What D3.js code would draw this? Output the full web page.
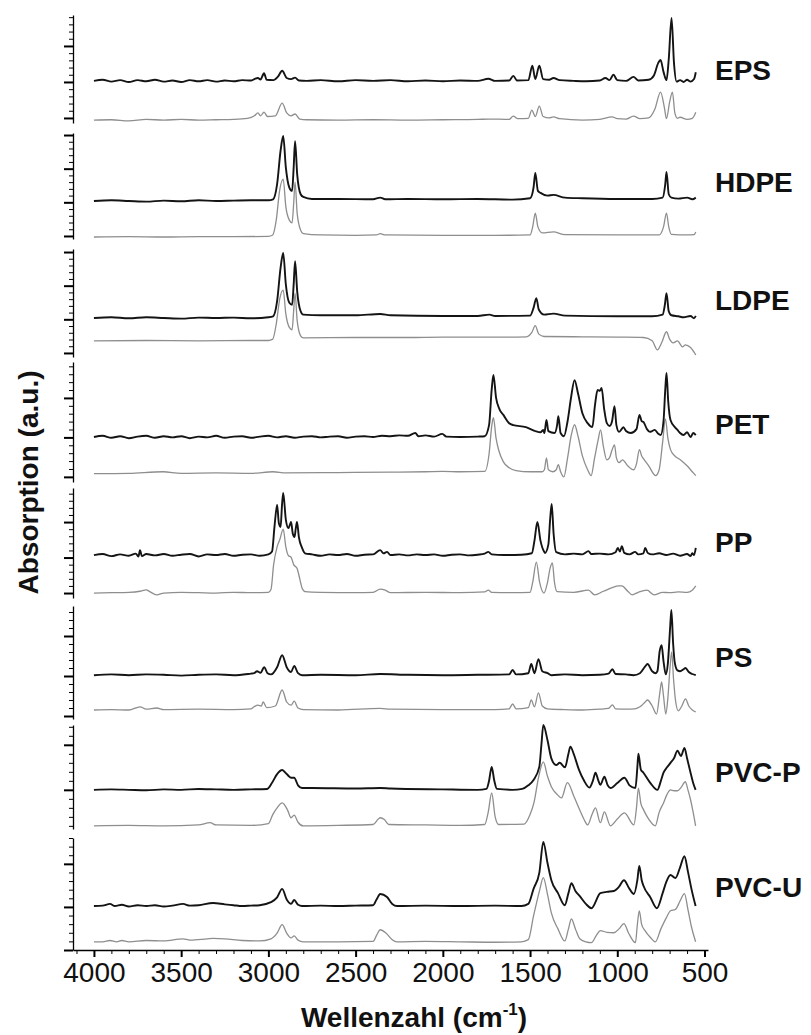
<!DOCTYPE html>
<html>
<head>
<meta charset="utf-8">
<script src="https://cdn.jsdelivr.net/npm/d3@7"></script>
<style>
  body { margin: 0; background: #fff; }
  svg text { font-family: "Liberation Sans", Arial, sans-serif; fill: #111; }
</style>
</head>
<body>
<div id="chart"></div>
<script>
// ---- data ----
const polymers = ["EPS", "HDPE", "LDPE", "PET", "PP", "PS", "PVC-P", "PVC-U"];
const xTicks = [4000, 3500, 3000, 2500, 2000, 1500, 1000, 500];
// stacking offsets (a.u.) of the measured (black) and reference (grey) spectra
const sampleOffsets = [1.03, 1.04, 1.04, 1.01, 1.07, 1.02, 1.0, 1.02];
const referenceOffsets = [-0.06, -0.03, 0.36, 0.08, 0.0, 0.15, 0.2, 0.19];

// [wavenumber, absorption] pairs
const epsSample = [[4000,0],[3950,0.03],[3900,-0.02],[3850,0.02],[3800,-0.03],[3750,0.02],[3700,-0.01],[3650,0.03],[3600,-0.02],[3550,0.01],[3500,-0.03],[3450,0.02],[3400,-0.01],[3350,0.02],[3300,-0.02],[3250,0.01],[3200,-0.01],[3150,0.02],[3100,0.01],[3080,0.05],[3060,0.08],[3045,0.04],[3025,0.21],[3010,0.03],[2970,0.02],[2945,0.12],[2921,0.28],[2895,0.08],[2870,0.05],[2847,0.09],[2825,0.01],[2780,0],[2700,0.02],[2600,-0.01],[2500,0.02],[2400,0],[2300,0.02],[2200,-0.01],[2100,0.01],[2000,-0.01],[1900,0.01],[1800,0],[1739,0.06],[1700,0],[1620,0.01],[1596,0.14],[1575,0.01],[1510,0.02],[1487,0.42],[1470,0.05],[1447,0.42],[1425,0.05],[1390,0.03],[1366,0.08],[1330,0.02],[1250,0],[1180,-0.01],[1100,0.01],[1068,0.08],[1045,0.02],[1022,0.17],[1000,0.02],[950,0],[907,0.11],[880,0.01],[820,0.03],[790,0.15],[765,0.5],[752,0.58],[735,0.25],[718,0.02],[705,0.6],[689,1.75],[675,0.5],[660,-0.02],[640,0.02],[620,-0.03],[600,0.03],[580,-0.02],[560,0.05],[550,0.24]];
const epsReference = [[4000,0],[3900,0.01],[3800,-0.02],[3700,0.02],[3600,0],[3500,0.02],[3400,0],[3300,0.01],[3200,0.02],[3120,0.05],[3080,0.12],[3060,0.2],[3045,0.12],[3025,0.22],[3005,0.1],[2960,0.12],[2921,0.47],[2895,0.2],[2870,0.12],[2847,0.17],[2820,0.03],[2780,0.01],[2600,0],[2400,0.01],[2200,0],[2000,0.01],[1800,0.02],[1739,0.03],[1620,0.02],[1596,0.11],[1570,0.04],[1510,0.05],[1490,0.28],[1470,0.1],[1447,0.39],[1425,0.1],[1390,0.06],[1366,0.09],[1330,0.04],[1200,0],[1100,0.02],[1030,0.09],[1000,0.04],[950,0.03],[907,0.11],[870,0.04],[820,0.06],[785,0.3],[752,0.78],[730,0.35],[718,0.04],[700,0.5],[684,0.78],[670,0.2],[655,0.05],[640,0.08],[600,0.02],[570,0.05],[550,0.22]];

const hdpeSample = [[4000,0],[3900,0.02],[3800,0],[3700,-0.02],[3600,0.01],[3500,-0.01],[3400,0.02],[3300,0],[3200,0.01],[3100,0.02],[3000,0.02],[2973,0.05],[2950,0.5],[2930,1.5],[2915,1.93],[2900,1.0],[2880,0.4],[2864,0.3],[2855,1.0],[2847,1.78],[2835,0.8],[2815,0.2],[2800,0.12],[2750,0.06],[2600,0.06],[2400,0.05],[2359,0.1],[2330,0.05],[2200,0.06],[2000,0.05],[1800,0.06],[1600,0.04],[1500,0.08],[1480,0.4],[1470,0.83],[1455,0.3],[1440,0.24],[1400,0.16],[1366,0.18],[1300,0.1],[1200,0.08],[1000,0.06],[800,0.06],[740,0.1],[725,0.5],[718,0.86],[705,0.2],[690,0.1],[650,0.07],[600,0.1],[570,0.05],[550,0.1]];
const hdpeReference = [[4000,0],[3800,0.01],[3600,0],[3400,0.01],[3200,0.01],[3000,0.02],[2975,0.06],[2955,0.5],[2935,1.4],[2915,1.72],[2900,0.9],[2880,0.5],[2864,0.42],[2855,1.0],[2847,1.63],[2835,0.7],[2815,0.2],[2800,0.1],[2700,0.06],[2500,0.05],[2380,0.06],[2359,0.1],[2330,0.06],[2000,0.05],[1700,0.05],[1500,0.06],[1485,0.3],[1470,0.71],[1455,0.3],[1430,0.12],[1366,0.15],[1300,0.07],[1000,0.06],[760,0.06],[735,0.3],[718,0.71],[705,0.3],[690,0.08],[600,0.06],[560,0.07],[550,0.15]];

const ldpeSample = [[4000,0],[3900,0.02],[3800,-0.01],[3700,0.02],[3600,0],[3500,-0.02],[3400,0.01],[3300,0],[3200,0.01],[3100,-0.01],[3000,0.02],[2973,0.05],[2950,0.5],[2930,1.5],[2915,1.93],[2900,1.0],[2880,0.45],[2864,0.39],[2855,1.0],[2847,1.69],[2835,0.8],[2815,0.2],[2800,0.1],[2700,0.08],[2500,0.08],[2359,0.12],[2300,0.08],[2000,0.06],[1800,0.06],[1733,0.1],[1700,0.06],[1500,0.07],[1480,0.3],[1464,0.59],[1450,0.25],[1420,0.1],[1366,0.13],[1300,0.07],[1000,0.05],[800,0.05],[740,0.1],[727,0.4],[718,0.74],[705,0.2],[690,0.08],[650,0.05],[620,0.02],[580,0.06],[560,-0.01],[550,0.06]];
const ldpeReference = [[4000,0],[3700,0.01],[3400,0],[3100,0.01],[3000,0.01],[2975,0.05],[2955,0.5],[2935,1.25],[2915,1.51],[2900,0.8],[2880,0.4],[2864,0.33],[2855,0.9],[2847,1.42],[2835,0.6],[2815,0.15],[2800,0.09],[2500,0.1],[2200,0.1],[2000,0.11],[1700,0.11],[1520,0.12],[1490,0.25],[1470,0.45],[1450,0.2],[1420,0.13],[1200,0.12],[1000,0.11],[850,0.1],[800,0.0],[770,-0.27],[745,-0.05],[718,0.27],[700,0.05],[680,-0.06],[655,0.0],[626,-0.18],[610,-0.12],[580,-0.2],[550,-0.42]];

const petSample = [[4000,0],[3950,0.03],[3900,-0.02],[3850,0.02],[3800,-0.03],[3750,0.01],[3700,0.03],[3650,-0.02],[3600,0.02],[3550,-0.01],[3500,0.02],[3450,-0.03],[3400,0.01],[3350,-0.01],[3300,0.03],[3250,-0.02],[3200,0.01],[3150,0.02],[3100,-0.02],[3050,0.01],[3000,0.03],[2950,-0.01],[2900,0.02],[2850,-0.02],[2800,0.01],[2750,0.02],[2700,-0.01],[2650,0.01],[2600,0.02],[2550,-0.02],[2500,0.01],[2450,0.02],[2400,0.0],[2350,0.03],[2300,0.02],[2250,0.04],[2200,0.03],[2158,0.1],[2140,0.02],[2100,0.04],[2050,0.01],[2003,0.08],[1980,0.01],[1900,0.0],[1800,0.01],[1760,0.02],[1735,0.3],[1720,1.2],[1710,1.57],[1695,1.0],[1675,0.7],[1653,0.56],[1620,0.35],[1596,0.3],[1524,0.25],[1470,0.15],[1440,0.12],[1425,0.18],[1418,0.1],[1406,0.43],[1395,0.15],[1360,0.1],[1345,0.3],[1338,0.53],[1325,0.1],[1306,0.02],[1285,0.4],[1265,1.0],[1245,1.44],[1225,1.1],[1200,0.6],[1170,0.35],[1143,0.25],[1128,0.8],[1113,1.19],[1100,1.17],[1090,1.24],[1075,0.7],[1060,0.35],[1044,0.28],[1030,0.4],[1016,0.78],[1005,0.3],[990,0.13],[975,0.2],[965,0.25],[950,0.15],[923,0.1],[890,0.2],[873,0.56],[860,0.4],[850,0.38],[830,0.2],[813,0.13],[800,0.15],[785,0.18],[765,0.08],[751,0.05],[735,0.4],[725,1.2],[718,1.62],[708,0.9],[695,0.43],[670,0.25],[655,0.18],[640,0.1],[620,0.05],[600,0.12],[580,0.0],[565,0.1],[550,0.05]];
const petReference = [[4000,0],[3800,0.01],[3604,0.05],[3500,0.01],[3300,0.02],[3100,0.01],[2973,0.05],[2900,0.02],[2600,0.03],[2300,0.04],[2100,0.05],[2000,0.06],[1900,0.05],[1760,0.06],[1735,0.5],[1720,1.2],[1710,1.42],[1695,0.9],[1680,0.6],[1653,0.3],[1620,0.15],[1580,0.08],[1500,0.05],[1430,0.05],[1418,0.1],[1406,0.4],[1395,0.1],[1370,0.05],[1350,0.1],[1338,0.23],[1325,0.05],[1306,-0.08],[1285,0.4],[1265,0.95],[1245,1.24],[1225,0.95],[1200,0.45],[1170,0.1],[1150,-0.05],[1130,0.4],[1110,0.85],[1096,1.11],[1080,0.7],[1060,0.35],[1045,0.4],[1030,0.6],[1016,0.73],[1005,0.4],[990,0.28],[970,0.35],[940,0.2],[905,0.1],[890,0.25],[873,0.61],[860,0.45],[850,0.38],[820,0.2],[780,-0.05],[760,0.1],[740,0.8],[724,1.39],[710,0.9],[695,0.61],[670,0.45],[637,0.35],[600,0.2],[570,0.05],[550,-0.05]];

const ppSample = [[4000,0],[3950,0.03],[3900,-0.03],[3850,0.02],[3800,-0.02],[3760,0.04],[3745,-0.04],[3736,0.14],[3725,-0.03],[3700,0.03],[3650,-0.01],[3600,0.03],[3550,-0.02],[3500,0.01],[3450,0.03],[3400,-0.04],[3350,0.02],[3300,0.0],[3250,0.03],[3200,-0.02],[3150,0.01],[3100,0.02],[3050,-0.02],[3000,0.02],[2979,0.1],[2965,0.8],[2950,1.41],[2940,0.9],[2930,0.79],[2922,1.4],[2915,1.75],[2900,1.0],[2885,0.76],[2877,0.85],[2870,0.93],[2860,0.6],[2850,0.51],[2843,0.75],[2836,0.93],[2825,0.5],[2807,0.2],[2790,0.05],[2750,0.02],[2700,-0.02],[2650,0.02],[2600,0.0],[2550,0.03],[2500,-0.02],[2450,0.01],[2400,0.02],[2359,0.14],[2340,0.05],[2320,0.09],[2300,0.0],[2250,0.02],[2200,-0.01],[2150,0.02],[2100,0.0],[2050,0.02],[2000,-0.02],[1950,0.01],[1900,0.02],[1850,-0.01],[1800,0.01],[1760,0.04],[1739,0.09],[1720,0.02],[1650,0.0],[1550,0.01],[1490,0.05],[1475,0.4],[1458,0.93],[1440,0.4],[1420,0.1],[1414,0.06],[1395,0.3],[1385,1.0],[1376,1.44],[1365,0.6],[1350,0.08],[1300,0.02],[1250,0.04],[1200,0.02],[1165,0.11],[1150,0.03],[1100,0.04],[1050,0.02],[1010,0.08],[997,0.2],[985,0.1],[974,0.25],[960,0.06],[930,0.02],[897,0.09],[880,0.02],[850,0.05],[840,0.2],[825,0.06],[800,0.02],[760,0.05],[720,0.0],[680,0.04],[640,-0.02],[600,0.03],[580,-0.03],[570,0.05],[560,0.0],[550,0.2]];
const ppReference = [[4000,0],[3900,0.01],[3800,0.02],[3736,0.05],[3700,0.09],[3680,0.04],[3640,-0.05],[3600,0.0],[3500,0.02],[3400,0.01],[3300,0.0],[3200,0.02],[3100,0.01],[3000,0.02],[2985,0.1],[2970,0.8],[2950,1.3],[2935,1.5],[2915,1.8],[2900,1.3],[2885,1.05],[2870,1.01],[2855,0.8],[2836,0.7],[2820,0.4],[2807,0.14],[2790,0.04],[2700,0.02],[2500,0.01],[2400,0.02],[2359,0.11],[2330,0.08],[2300,0.01],[2100,0.02],[1900,0.01],[1760,0.03],[1739,0.08],[1720,0.02],[1600,0.01],[1500,0.02],[1485,0.3],[1464,0.87],[1445,0.3],[1420,0.0],[1400,0.3],[1385,0.7],[1372,0.85],[1360,0.3],[1345,0.04],[1250,0.02],[1165,0.08],[1130,-0.05],[1080,0.05],[1030,0.15],[993,0.2],[974,0.2],[940,0.05],[915,-0.05],[880,0.02],[830,0.08],[790,-0.05],[740,0.02],[700,0.01],[650,0.03],[600,0.02],[570,0.08],[550,0.2]];

const psSample = [[4000,0],[3900,0.02],[3800,0],[3700,0.02],[3600,0.01],[3500,-0.01],[3400,0.01],[3300,0.02],[3200,0.0],[3100,0.04],[3082,0.05],[3065,0.1],[3045,0.06],[3024,0.2],[3005,0.05],[2985,0.02],[2950,0.2],[2921,0.5],[2895,0.2],[2870,0.08],[2852,0.23],[2830,0.05],[2807,0.0],[2700,0.01],[2500,0.0],[2359,0.03],[2200,0.01],[2000,0.0],[1800,0.01],[1620,0.02],[1600,0.13],[1580,0.02],[1510,0.05],[1493,0.28],[1475,0.05],[1452,0.4],[1430,0.1],[1400,0.05],[1378,0.0],[1300,0.02],[1200,0.0],[1100,0.01],[1050,0.04],[1028,0.15],[1010,0.03],[950,0.02],[907,0.0],[870,0.05],[840,0.22],[827,0.28],[800,0.1],[780,0.05],[770,0.1],[757,0.6],[746,0.75],[735,0.35],[722,0.02],[710,0.3],[697,1.2],[690,1.63],[680,0.8],[670,0.3],[655,0.12],[640,0.1],[620,0.15],[609,0.18],[590,0.08],[570,0.03],[550,0.0]];
const psReference = [[4000,0],[3900,0.01],[3800,0.0],[3736,0.08],[3700,0.02],[3640,0.05],[3600,0.01],[3400,0.02],[3200,0.01],[3100,0.03],[3082,0.08],[3060,0.12],[3040,0.1],[3030,0.2],[3010,0.06],[2960,0.1],[2921,0.5],[2895,0.2],[2870,0.12],[2852,0.22],[2830,0.05],[2800,0.01],[2600,0.0],[2359,0.04],[2300,0.02],[2000,0.01],[1700,0.01],[1620,0.03],[1600,0.15],[1580,0.03],[1510,0.06],[1493,0.25],[1475,0.08],[1452,0.43],[1430,0.1],[1400,0.03],[1300,0.01],[1200,0.0],[1100,0.02],[1050,0.04],[1028,0.13],[1010,0.03],[950,0.02],[900,0.03],[870,0.08],[840,0.2],[827,0.25],[800,0.1],[775,-0.1],[757,0.4],[746,0.7],[735,0.35],[722,-0.1],[710,0.3],[697,1.1],[688,1.45],[678,0.8],[665,0.2],[650,-0.02],[630,0.1],[609,0.28],[590,0.1],[570,0.0],[550,-0.05]];

const pvcpSample = [[4000,0],[3900,0.01],[3800,0.0],[3700,-0.01],[3600,0.01],[3500,0.0],[3400,0.02],[3300,0.01],[3200,0.0],[3100,0.01],[3008,0.02],[2980,0.15],[2950,0.35],[2921,0.44],[2895,0.35],[2870,0.27],[2852,0.27],[2830,0.1],[2807,0.04],[2750,0.04],[2500,0.03],[2359,0.04],[2300,0.03],[2000,0.01],[1800,0.0],[1750,0.02],[1735,0.2],[1720,0.51],[1705,0.2],[1690,0.02],[1600,0.0],[1545,0.02],[1510,0.1],[1480,0.22],[1447,0.51],[1435,1.0],[1424,1.44],[1400,1.1],[1378,0.7],[1350,0.55],[1330,0.6],[1300,0.5],[1280,0.8],[1269,0.96],[1250,0.8],[1220,0.45],[1190,0.2],[1160,0.05],[1140,0.2],[1125,0.38],[1108,0.2],[1097,0.11],[1074,0.29],[1055,0.1],[1039,0.04],[1000,0.15],[959,0.27],[930,0.1],[896,0.04],[885,0.5],[879,0.8],[865,0.45],[850,0.38],[810,0.15],[770,0.0],[750,0.2],[735,0.38],[715,0.5],[695,0.6],[675,0.7],[655,0.87],[635,0.75],[615,0.93],[600,0.7],[580,0.38],[565,0.15],[551,0.0]];
const pvcpReference = [[4000,0],[3800,0.01],[3600,0.0],[3400,0.02],[3334,0.07],[3300,0.02],[3100,0.01],[3000,0.05],[2975,0.25],[2950,0.4],[2921,0.51],[2890,0.35],[2870,0.18],[2852,0.24],[2830,0.08],[2800,0.0],[2600,0.01],[2400,0.03],[2370,0.15],[2359,0.18],[2335,0.14],[2310,0.03],[2100,0.02],[1900,0.01],[1760,0.03],[1740,0.3],[1720,0.73],[1700,0.2],[1680,0.03],[1534,0.04],[1500,0.25],[1478,0.51],[1450,1.1],[1424,1.42],[1400,1.1],[1378,0.87],[1345,0.7],[1320,0.62],[1286,0.96],[1247,0.64],[1215,0.35],[1189,0.13],[1170,0.02],[1145,0.25],[1125,0.4],[1097,0.07],[1074,0.31],[1039,0.0],[1000,0.15],[959,0.29],[905,0.02],[890,0.4],[879,0.84],[865,0.5],[850,0.36],[820,0.15],[782,0.0],[760,0.3],[735,0.51],[715,0.7],[695,0.8],[675,0.78],[655,0.78],[635,0.85],[610,0.98],[595,0.8],[580,0.58],[565,0.3],[551,0.0]];

const pvcuSample = [[4000,0],[3950,0.01],[3908,0.05],[3880,0.0],[3840,0.03],[3800,-0.01],[3750,0.02],[3700,0.0],[3650,0.02],[3600,-0.01],[3550,0.01],[3489,0.05],[3450,0.01],[3400,0.02],[3317,0.07],[3250,0.04],[3200,0.02],[3150,0.0],[3100,0.01],[3050,0.02],[2985,0.09],[2950,0.2],[2921,0.4],[2895,0.15],[2870,0.05],[2852,0.14],[2830,0.03],[2807,0.0],[2700,0.01],[2600,0.0],[2500,0.01],[2400,0.02],[2380,0.15],[2359,0.28],[2320,0.21],[2290,0.05],[2263,0.0],[2100,0.01],[1900,0.0],[1700,0.01],[1550,0.0],[1510,0.05],[1480,0.4],[1447,0.77],[1424,1.49],[1400,1.0],[1378,0.6],[1340,0.3],[1301,0.02],[1280,0.3],[1263,0.53],[1240,0.35],[1215,0.23],[1180,0.05],[1148,-0.05],[1097,0.3],[1060,0.33],[1020,0.35],[990,0.45],[962,0.6],[930,0.4],[905,0.28],[885,0.6],[874,0.93],[860,0.6],[850,0.47],[810,0.2],[773,-0.05],[740,0.3],[720,0.55],[695,0.72],[667,0.65],[640,0.9],[615,1.16],[595,0.8],[575,0.4],[551,0.0]];
const pvcuReference = [[4000,0],[3950,0.0],[3908,0.03],[3870,0.0],[3840,0.03],[3800,0.0],[3700,0.03],[3600,0.02],[3489,0.07],[3450,0.04],[3350,0.07],[3317,0.08],[3250,0.07],[3150,0.03],[3050,0.02],[2985,0.07],[2950,0.2],[2921,0.4],[2895,0.2],[2870,0.09],[2852,0.14],[2830,0.04],[2800,0.0],[2600,0.0],[2400,0.01],[2380,0.15],[2359,0.28],[2325,0.2],[2290,0.05],[2263,0.0],[2100,0.01],[1900,0.0],[1700,-0.01],[1550,0.0],[1510,0.05],[1480,0.6],[1445,1.2],[1424,1.49],[1400,1.1],[1378,0.67],[1340,0.3],[1301,0.02],[1280,0.3],[1263,0.53],[1240,0.3],[1215,0.07],[1180,0.0],[1148,-0.02],[1120,0.15],[1097,0.26],[1060,0.22],[1020,0.21],[990,0.3],[962,0.42],[935,0.2],[896,-0.02],[885,0.4],[874,0.72],[860,0.4],[841,0.26],[810,0.1],[782,0.0],[750,0.3],[720,0.55],[695,0.72],[667,0.75],[640,0.95],[615,1.12],[595,0.75],[575,0.35],[551,0.0]];

const samples = [epsSample, hdpeSample, ldpeSample, petSample, ppSample, psSample, pvcpSample, pvcuSample];
const references = [epsReference, hdpeReference, ldpeReference, petReference, ppReference, psReference, pvcpReference, pvcuReference];

// ---- layout ----
const width = 811;
const height = 1035;
const margin = { left: 73, right: 103, bottom: 85 };
const axisBottom = height - margin.bottom;

// pixel band of every stacked panel and the y range (a.u.) it shows
const panelBox = [
  { top: 15,  bottom: 123, lo: -0.14, hi: 2.86, labelY: 80 },
  { top: 133, bottom: 239, lo: -0.09, hi: 3.06, labelY: 192 },
  { top: 249, bottom: 357, lo: -0.12, hi: 3.09, labelY: 310 },
  { top: 362, bottom: 482, lo: -0.13, hi: 2.91, labelY: 434 },
  { top: 488, bottom: 598, lo: -0.14, hi: 2.96, labelY: 552 },
  { top: 606, bottom: 719, lo: -0.075, hi: 2.75, labelY: 667 },
  { top: 725, bottom: 829, lo: 0.13, hi: 2.44, labelY: 782 },
  { top: 838, bottom: 950, lo: 0.0, hi: 2.6, labelY: 897 }
];

const svg = d3.select("#chart")
  .append("svg")
  .attr("width", width)
  .attr("height", height);

const xScale = d3.scaleLinear()
  .domain([4120, 480])
  .range([margin.left, width - margin.right]);

polymers.forEach((name, i) => {
  const box = panelBox[i];
  const yScale = d3.scaleLinear()
    .domain([box.lo, box.hi])
    .range([box.bottom, box.top]);

  const major = d3.range(Math.ceil(box.lo), box.hi + 1e-6, 1);
  const minor = d3.range(Math.ceil(box.lo * 5) / 5, box.hi + 1e-6, 0.2)
    .filter(v => Math.abs(v - Math.round(v)) > 0.01);

  const g = svg.append("g").attr("transform", `translate(${margin.left},0)`);

  g.append("g")
    .attr("class", "minor")
    .call(d3.axisLeft(yScale).tickValues(minor).tickSize(4).tickSizeOuter(0).tickFormat(""))
    .call(a => a.select(".domain").attr("stroke-width", 1.3));

  g.append("g")
    .attr("class", "major")
    .call(d3.axisLeft(yScale).tickValues(major).tickSize(9).tickSizeOuter(0).tickFormat(""))
    .call(a => a.select(".domain").remove())
    .call(a => a.selectAll(".tick line").attr("stroke-width", 2));

  const line = d3.line()
    .x(d => xScale(d[0]))
    .curve(d3.curveMonotoneX);

  svg.append("path")
    .datum(references[i])
    .attr("fill", "none")
    .attr("stroke", "#8e8e8e")
    .attr("stroke-width", 1.3)
    .attr("stroke-linejoin", "round")
    .attr("d", line.y(d => yScale(d[1] + referenceOffsets[i])));

  svg.append("path")
    .datum(samples[i])
    .attr("fill", "none")
    .attr("stroke", "#141414")
    .attr("stroke-width", 1.9)
    .attr("stroke-linejoin", "round")
    .attr("d", line.y(d => yScale(d[1] + sampleOffsets[i])));

  svg.append("text")
    .attr("x", 715)
    .attr("y", box.labelY)
    .attr("font-size", 28)
    .attr("font-weight", "bold")
    .text(name);
});

// x axis
const xMinor = d3.range(4100, 450, -100).filter(v => v % 500 !== 0);
svg.append("g")
  .attr("transform", `translate(0,${axisBottom})`)
  .call(d3.axisBottom(xScale).tickValues(xMinor).tickSize(4).tickSizeOuter(0).tickFormat(""))
  .call(a => a.select(".domain").attr("stroke-width", 1.3));

const xAxisGroup = svg.append("g")
  .attr("transform", `translate(0,${axisBottom})`)
  .call(d3.axisBottom(xScale).tickValues(xTicks).tickSize(7).tickSizeOuter(0).tickPadding(5).tickFormat(d3.format("d")))
  .call(a => a.select(".domain").remove())
  .call(a => a.selectAll(".tick line").attr("stroke-width", 2));

xAxisGroup.selectAll(".tick text")
  .attr("font-size", 28)
  .attr("fill", "#111")
  .attr("font-family", "Liberation Sans, Arial, sans-serif");

// axis titles
const xTitle = svg.append("text")
  .attr("x", 414)
  .attr("y", 1027)
  .attr("text-anchor", "middle")
  .attr("font-size", 28)
  .attr("font-weight", "bold");
xTitle.append("tspan").text("Wellenzahl (cm");
xTitle.append("tspan").attr("font-size", 17).attr("dy", -12).text("-1");
xTitle.append("tspan").attr("dy", 12).text(")");

svg.append("text")
  .attr("transform", `translate(38,${(15 + 950) / 2})rotate(-90)`)
  .attr("text-anchor", "middle")
  .attr("font-size", 28)
  .attr("font-weight", "bold")
  .text("Absorption (a.u.)");
</script>
</body>
</html>
